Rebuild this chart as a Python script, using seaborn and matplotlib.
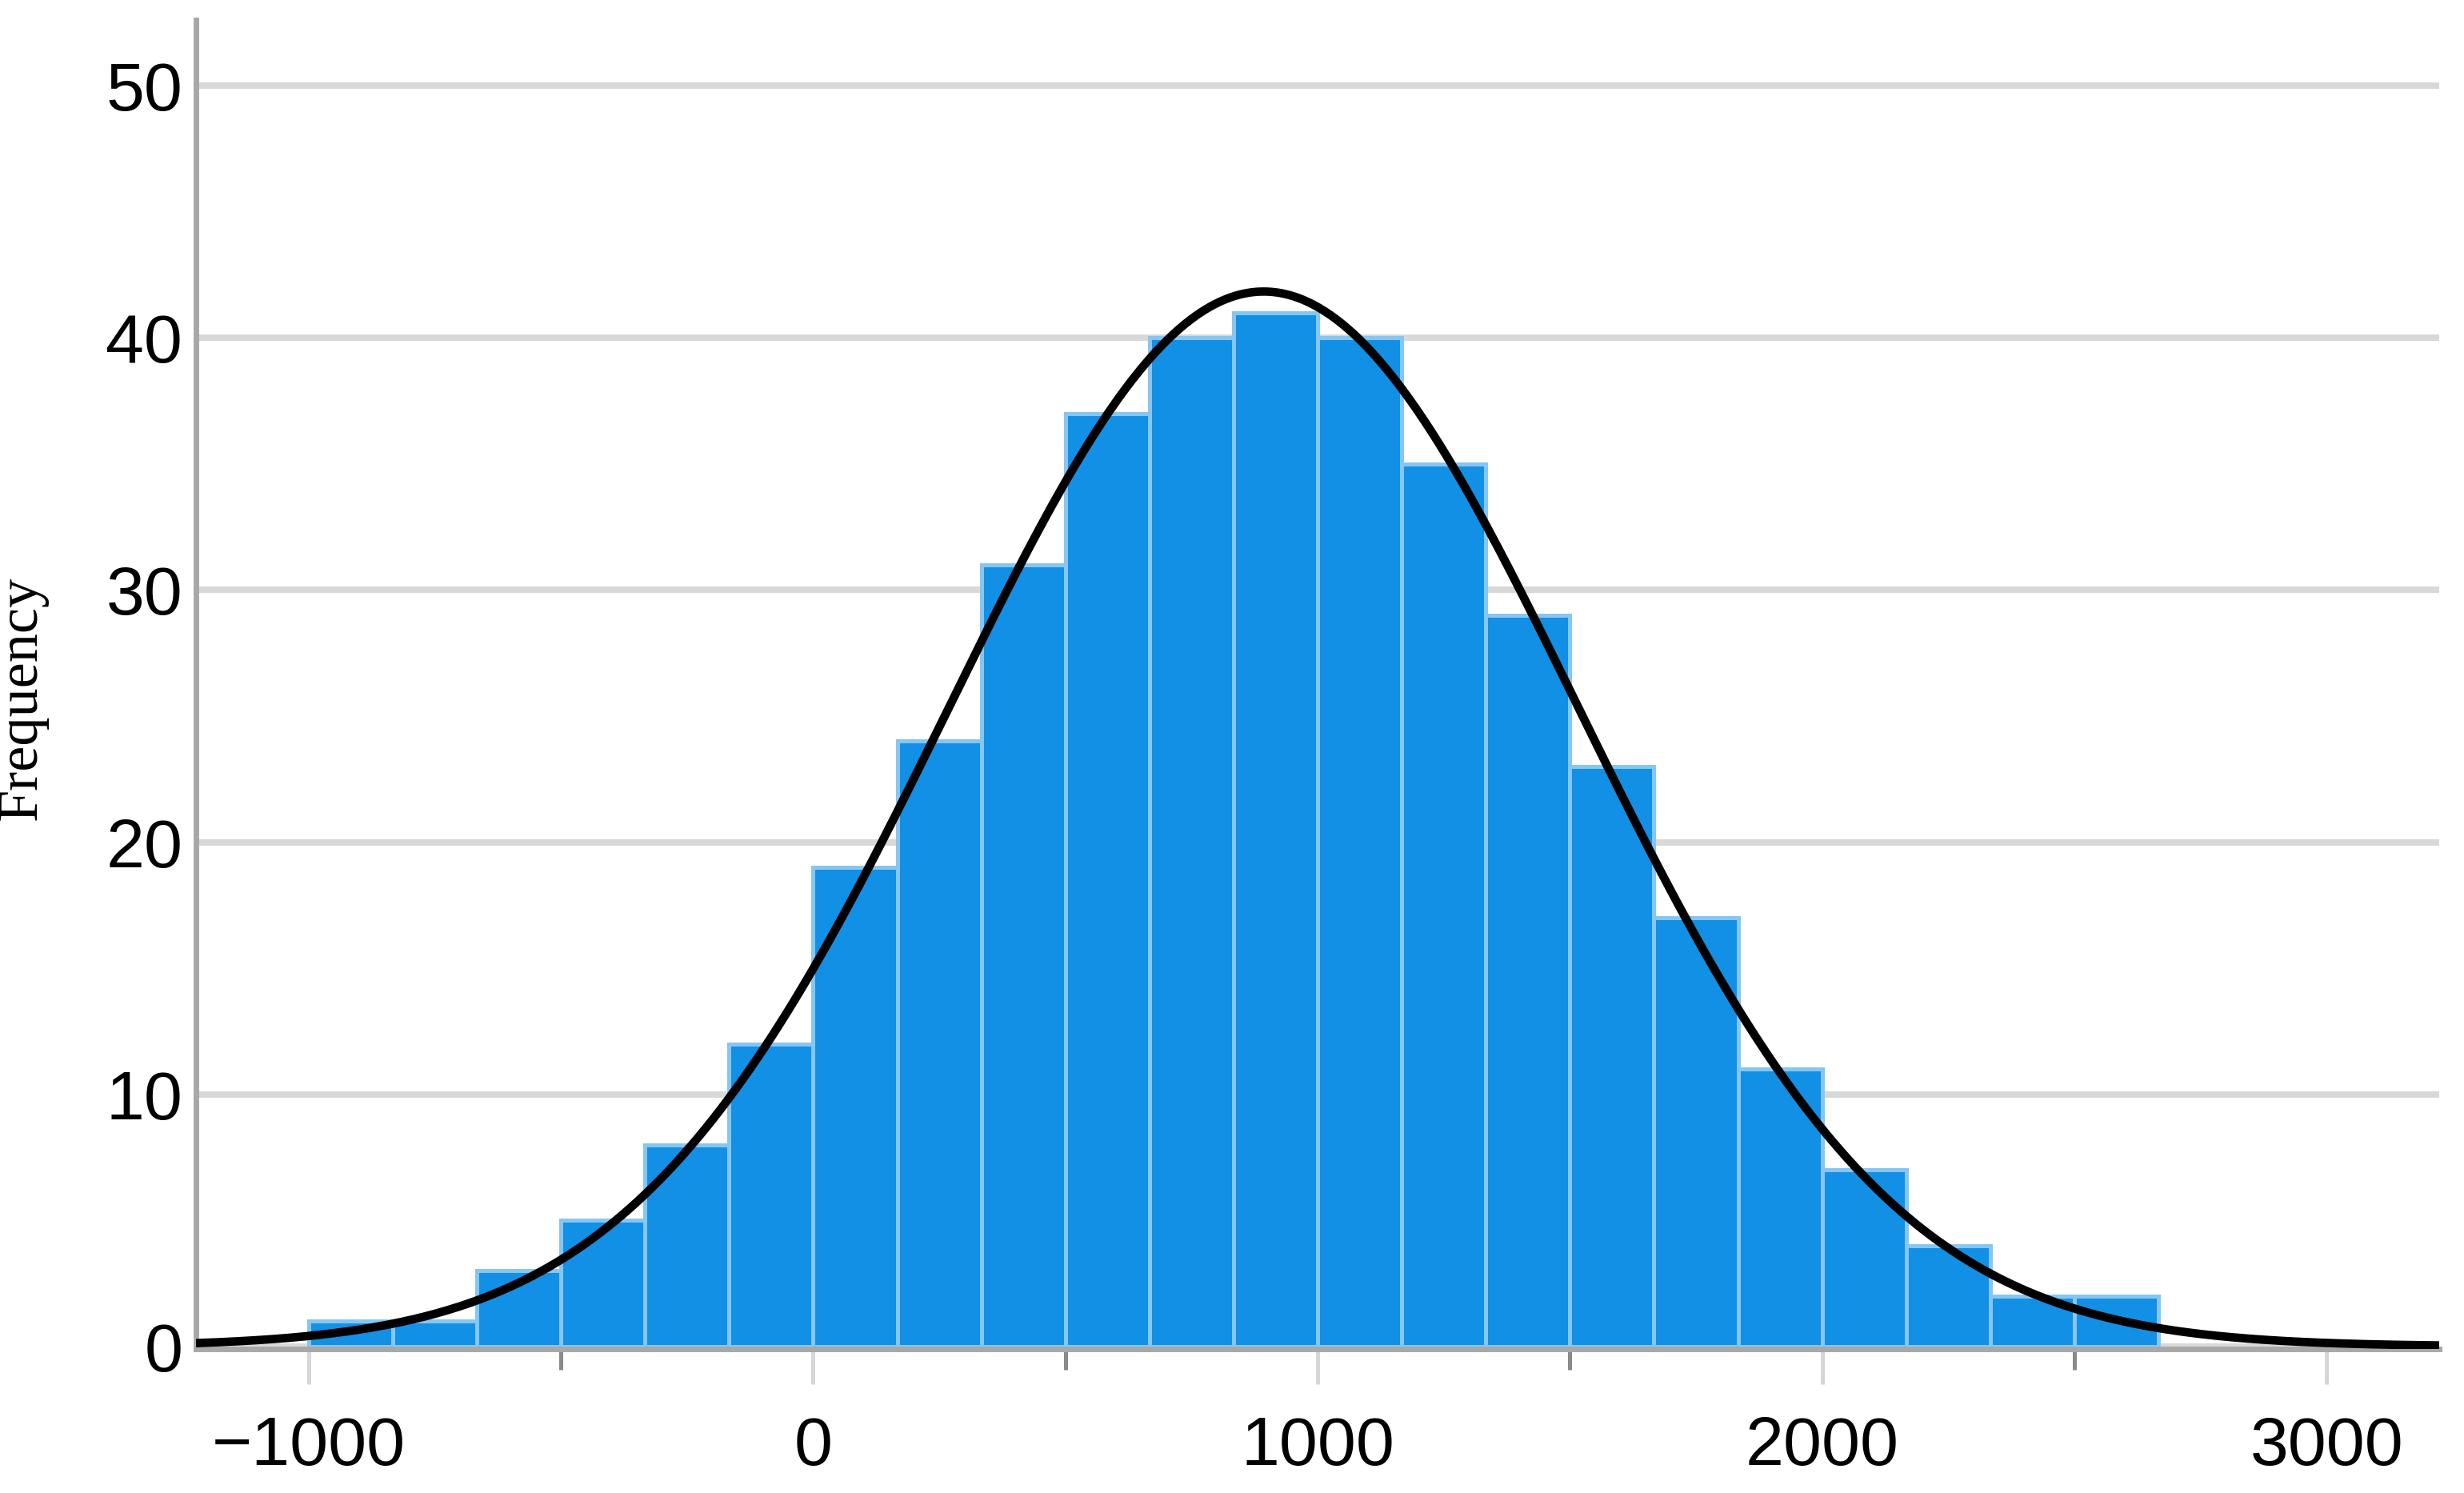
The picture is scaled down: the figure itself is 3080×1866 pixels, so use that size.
import numpy as np
import pandas as pd
import matplotlib
matplotlib.use("Agg")
import matplotlib.pyplot as plt
import seaborn as sns
from matplotlib.ticker import MultipleLocator

# ---- data ----
bin_start = -1000.0
bin_width = 1000.0 / 6.0
counts = [1, 1, 3, 5, 8, 12, 19, 24, 31, 37, 40, 41, 40, 35, 29, 23, 17, 11, 7, 4, 2, 2]
fit_mean = 893.0     # normal curve parameters (from picture)
fit_sd = 623.0
x_ticks = [-1000, 0, 1000, 2000, 3000]
x_tick_labels = ["\u22121000", "0", "1000", "2000", "3000"]
y_ticks = [0, 10, 20, 30, 40, 50]
y_label = "Frequency"

edges = bin_start + bin_width * np.arange(len(counts) + 1)
centers = (edges[:-1] + edges[1:]) / 2
df = pd.DataFrame({"value": centers, "count": np.asarray(counts, dtype=float)})

n_total = float(np.sum(counts))
xlim = (-1223.5, 3223.5)
xs = np.linspace(xlim[0], xlim[1], 600)
ys = n_total * bin_width / (fit_sd * np.sqrt(2 * np.pi)) * np.exp(-0.5 * ((xs - fit_mean) / fit_sd) ** 2)
curve = pd.DataFrame({"x": xs, "y": ys})

sns.set_theme(style="white")
plt.rcParams["font.family"] = ["Liberation Sans", "DejaVu Sans"]
plt.rcParams["text.color"] = "black"
plt.rcParams["xtick.labelcolor"] = "black"
plt.rcParams["ytick.labelcolor"] = "black"

fig = plt.figure(figsize=(15.4, 9.33), dpi=200)
ax = fig.add_axes([0.0795, 0.0965, 0.9105, 0.89])

ax.yaxis.grid(True, color="#d8d8d8", linewidth=2.9, zorder=0)
ax.set_axisbelow(True)

sns.histplot(data=df, x="value", weights="count", bins=[float(e) for e in edges],
             ax=ax, color="#1190e6", edgecolor="#86c6f3", linewidth=1.8,
             alpha=1.0, zorder=2)
sns.lineplot(data=curve, x="x", y="y", ax=ax, color="black", linewidth=3.8,
             zorder=4)

ax.set_xlim(*xlim)
ax.set_ylim(-0.1, 52.6)
ax.set_xticks(x_ticks)
ax.set_xticklabels(x_tick_labels)
ax.xaxis.set_minor_locator(MultipleLocator(500))
ax.set_yticks(y_ticks)

ax.tick_params(axis="x", which="major", length=16, width=1.8, color="#d6d6d6",
               labelsize=31, pad=14, bottom=True, labelcolor="black")
ax.tick_params(axis="x", which="minor", length=9.5, width=1.8, color="#8a8a8a",
               bottom=True)
ax.tick_params(axis="y", which="both", length=0, labelsize=31, pad=6,
               labelcolor="black")

for s in ["top", "right"]:
    ax.spines[s].set_visible(False)
ax.spines["left"].set_color("#a8a8a8")
ax.spines["left"].set_linewidth(2.5)
ax.spines["bottom"].set_color("#a8a8a8")
ax.spines["bottom"].set_linewidth(2.5)

ax.set_xlabel("")
ax.set_ylabel(y_label, fontsize=26, family=["Liberation Serif", "DejaVu Serif"],
              color="black")
ax.yaxis.set_label_coords(-0.066, 0.49)

fig.savefig("out.png", dpi=200)
